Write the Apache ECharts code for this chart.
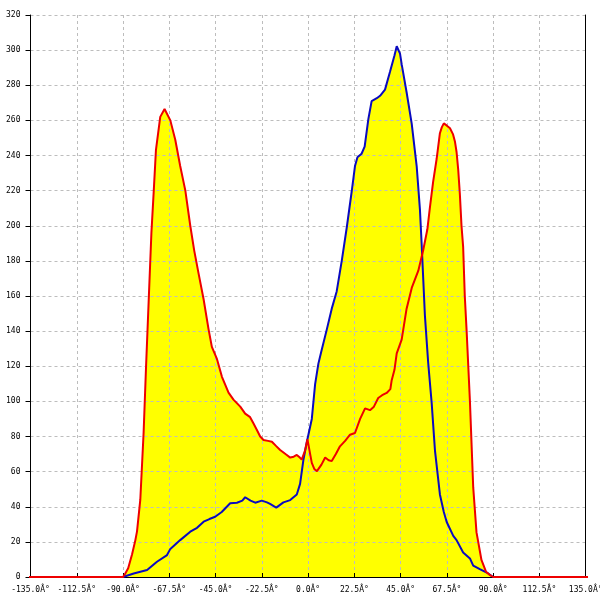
<!DOCTYPE html>
<html>
<head>
<meta charset="utf-8">
<script src="https://cdn.jsdelivr.net/npm/echarts@6/dist/echarts.min.js"></script>
<style>html,body{margin:0;padding:0;background:#fff;overflow:hidden;}#c{width:600px;height:600px;}</style>
</head>
<body>
<div id="c"></div>
<script>
// X tick values and labels
var xTicks = [-135, -112.5, -90, -67.5, -45, -22.5, 0, 22.5, 45, 67.5, 90, 112.5, 135];
var xTickLabels = ['-135.0Â°','-112.5Â°','-90.0Â°','-67.5Â°','-45.0Â°','-22.5Â°','0.0Â°','22.5Â°','45.0Â°','67.5Â°','90.0Â°','112.5Â°','135.0Â°'];
var yTicks = [0,20,40,60,80,100,120,140,160,180,200,220,240,260,280,300,320];

// Red series (angle, value); zero baseline extends beyond the curve
var redX = [-150,-90,-88.9,-87.5,-85.6,-84,-83.2,-81.6,-80,-78.8,-77.5,-76.2,-75.1,-74,-71.9,-69.8,-67,-64.6,-62.2,-59.7,-57.3,-55.4,-53.3,-50.8,-48.4,-46.8,-44.3,-41.9,-38.7,-36.3,-33,-30.6,-28.2,-26.6,-24.9,-23.3,-21.7,-19.5,-17.6,-15.5,-13.6,-11,-8.7,-7,-5.5,-4,-3.1,-1.5,-0.3,1,1.8,3,4.3,6.5,8.3,10,11.5,13.5,15.5,18,20.4,22.8,25.3,27.7,30.1,32,34.1,36,38.2,40,40.6,42,43.1,45.5,47.9,50.4,53.6,56,58,59.2,60.8,62.5,64.1,65,66,67.5,69,70.5,71.4,72.2,73,73.8,74.6,75.4,76.2,77.1,77.9,78.7,80.3,81.9,84.3,86.5,88.5,90,142];
var redY = [0,0,2,5,13,21,26,44,82,120,158,196,219,243,262,266.5,260,249,234,220,200,186,173,158,141,131,124,114,105,101,97,93,91,87.5,83.7,80,78,77.5,77,74.5,72.3,70,68,68.5,69.5,68,66.8,72,78.4,70,65,61.5,60.3,64,68,66.5,66,70,74.4,77.5,81,82,90,96,95,97,101.9,103.5,104.8,107,111.7,118,127.3,135.2,152.8,164.6,174.4,186.2,198,210,225,238,252.7,256,258.3,257,255.5,252,248,242,232,218,200,188,160,140,120,100,51,25.4,9.7,3,1,0,0];

// Blue series (angle, value)
var blueX = [-90,-84.8,-78.3,-73.5,-68.6,-67,-62.2,-57.3,-54,-50.8,-48,-45.2,-42,-37.9,-34.6,-32,-30.6,-28,-25.7,-22.5,-20,-18.5,-15.5,-12,-8.7,-5.5,-3.9,-2.3,-0.6,1.8,3.4,5,6.6,9.1,11.5,13.9,16.4,18.8,21.2,22.8,24,26,27.5,29.3,30.9,33.4,35,37.4,39.8,42,43.1,44.7,45.5,47.9,50.4,52.8,54.4,55.2,56.8,58.4,60.1,61.7,64.1,66,67.4,70.6,72.2,75.4,78.7,80.3,83.5,87.6,90];
var blueY = [0,2,4,8.7,12.5,16,21,25.8,28,31.5,33,34.3,37,42,42.3,43.5,45.4,43.5,42.3,43.5,42.5,41.6,39.5,42.5,43.8,47,53,66.6,77,90,109.7,121.5,129.3,141,152.8,162.6,180.3,199,219.5,234,239,241,245,260.7,271,272.6,274,277.5,287.5,297,302.2,298,292,276,258,234,209,190,149,122,99,72,47,37,31.3,23.4,21,14,10.6,6.5,4.5,2,0];

function pairs(xs, ys) { return xs.map(function (x, i) { return [x, ys[i]]; }); }
var redData = pairs(redX, redY);
var blueData = pairs(blueX, blueY);

var chart = echarts.init(document.getElementById('c'), null, {renderer: 'canvas'});
var labelFont = {fontFamily: 'DejaVu Sans Mono', fontSize: 8, color: '#000'};
chart.setOption({
  animation: false,
  backgroundColor: '#ffffff',
  grid: {left: 30.5, right: 14.3, top: 15, bottom: 23, containLabel: false, outerBoundsMode: 'none'},
  xAxis: {
    type: 'value', min: -135, max: 135, interval: 22.5, z: 2,
    axisLine: {show: true, onZero: false, lineStyle: {color: '#000', width: 1}},
    axisTick: {show: true, inside: true, length: 4, lineStyle: {color: '#000'}},
    axisLabel: Object.assign({margin: 9, showMinLabel: true, showMaxLabel: true, hideOverlap: false,
      formatter: function (v) { var i = xTicks.indexOf(v); return i >= 0 ? xTickLabels[i] : ''; }}, labelFont),
    splitLine: {show: true, lineStyle: {color: '#bdbdbd', type: [3, 3], width: 1}}
  },
  yAxis: [{
    type: 'value', min: 0, max: 320, interval: 20, z: 2, position: 'left',
    axisLine: {show: true, onZero: false, lineStyle: {color: '#000', width: 1}},
    axisTick: {show: true, inside: false, length: 5, lineStyle: {color: '#000'}},
    axisLabel: Object.assign({margin: 10,
      formatter: function (v) { return yTicks.indexOf(v) >= 0 ? String(v) : ''; }}, labelFont),
    splitLine: {show: true, lineStyle: {color: '#bdbdbd', type: [3, 3], width: 1}}
  }, {
    type: 'value', min: 0, max: 320, interval: 20, position: 'right', z: 2,
    axisLine: {show: true, onZero: false, lineStyle: {color: '#000', width: 1}},
    axisTick: {show: false}, axisLabel: {show: false}, splitLine: {show: false}
  }],
  series: [
    {type: 'line', data: blueData, z: 1, symbol: 'none', silent: true,
     lineStyle: {width: 0, opacity: 0}, areaStyle: {color: '#ffff00', opacity: 1}},
    {type: 'line', data: redData, z: 1, symbol: 'none', silent: true,
     lineStyle: {width: 0, opacity: 0}, areaStyle: {color: '#ffff00', opacity: 1}},
    {type: 'line', data: blueData, z: 3, symbol: 'none', clip: false,
     lineStyle: {width: 2, color: '#0a0ac0'}},
    {type: 'line', data: redData, z: 4, symbol: 'none', clip: false,
     lineStyle: {width: 2, color: '#ee0000'}}
  ]
});
</script>
</body>
</html>
